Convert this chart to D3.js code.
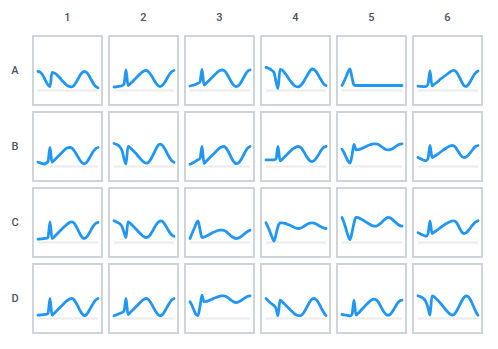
<!DOCTYPE html>
<html>
<head>
<meta charset="utf-8">
<script src="https://cdn.jsdelivr.net/npm/d3@7"></script>
<style>
  body { margin: 0; background: #fff; }
  text { font-family: Roboto, "Noto Sans", sans-serif; font-size: 11px; font-weight: 500; fill: #4a5366; }
</style>
</head>
<body>
<svg id="grid" width="498" height="349"></svg>
<script>
// grid labels
var rowNames = ["A", "B", "C", "D"];
var colNames = ["1", "2", "3", "4", "5", "6"];

// one sparkline per cell, 31 samples each
var A1 = [19, 18.5, 16.5, 13, 9, 5.5, 3.8, 18, 17.5, 16.5, 14.5, 12.5, 10, 8, 6, 4.5, 3.8, 3.7, 5, 8, 11.5, 15, 17.8, 19, 18.5, 16.5, 13, 9.5, 6, 3.8, 2.8];
var A2 = [3.5, 3.7, 4, 4.3, 4.8, 6.5, 20.5, 5, 6.5, 8.5, 10.5, 12.5, 14.5, 16.5, 18.3, 19.5, 20, 19.2, 17, 14, 10.5, 7.3, 5, 4, 4.8, 7, 10.2, 13.8, 17, 19.2, 20];
var A3 = [4.5, 5, 5.5, 6.3, 7.2, 8.5, 21, 5.5, 7, 9, 11, 13, 15, 17, 18.8, 20, 20.5, 20, 18, 14.5, 11, 7.5, 5, 4, 4.5, 6.5, 10, 13.5, 17, 19.5, 20.5];
var A4 = [23, 22.5, 21.5, 20, 18, 9, 2, 21, 20.5, 18.5, 16, 13, 10, 7.5, 5.3, 4, 3.7, 4.5, 6.5, 9.5, 13, 16.5, 19.5, 21.5, 21, 19, 16, 12.5, 9, 6.3, 5];
var A5 = [5, 9, 13.5, 18.5, 21.5, 13, 5.3, 5, 5, 5, 5, 5, 5, 5, 5, 5, 5, 5, 5, 5, 5, 5, 5, 5, 5, 5, 5, 5, 5, 5, 5];
var A6 = [4.3, 4.2, 4, 3.8, 4, 6.5, 19.5, 4.5, 6, 7.5, 9, 11, 12.5, 14, 15.5, 17, 18.5, 19.8, 20.2, 19, 16, 12, 8, 4.8, 4, 5.5, 8.5, 12, 15.5, 18, 19.5];

var B1 = [4.3, 3.6, 2.9, 2.5, 3.2, 5, 19, 4.3, 6, 8, 10, 12, 14, 16, 17.8, 18.8, 19, 18.3, 16, 13, 9.5, 6.3, 3.8, 2.7, 3.5, 6, 9.5, 13, 16, 18.2, 19];
var B2 = [23, 22.3, 21.3, 19.5, 16, 8, 2.5, 20, 19, 17, 15, 13, 10.5, 8.2, 6, 4.3, 3.3, 3.8, 6, 9.5, 13.5, 17.5, 21, 22.3, 21.5, 19, 15.5, 11.5, 8, 5.5, 4.3];
var B3 = [2.3, 3.3, 4.3, 5.5, 6.7, 8, 20, 3, 5, 7, 9, 11, 13, 15, 17, 18.8, 19.7, 20, 18.5, 15.5, 11.5, 7.5, 4.5, 2.8, 3.2, 5.3, 8.5, 12.5, 16, 18.8, 20];
var B4 = [6.7, 6.7, 6.6, 6.6, 6.7, 7.5, 20, 5.7, 7, 9, 11, 13, 15, 16.8, 18.3, 19.4, 20, 19.5, 17.5, 14.5, 11, 7.8, 5.7, 5, 5.8, 8, 11, 14.3, 17.3, 19.3, 20];
var B5 = [17.3, 14, 9.5, 5.5, 3.3, 11, 22, 16.7, 16.8, 17.3, 18, 19, 20, 21, 21.8, 22.4, 22.7, 22.7, 22.2, 21, 19.5, 18, 17, 16.7, 16.9, 17.6, 18.8, 20.2, 21.5, 22.3, 22.7];
var B6 = [9, 8, 7, 6.2, 5.7, 8, 21, 9, 10, 11.2, 12.5, 14, 15.5, 17, 18.3, 19.5, 20.5, 21, 20.5, 18.5, 15.5, 12.3, 10, 9, 9.5, 11, 13.3, 16, 18.5, 20.3, 21];

var C1 = [3.3, 3.5, 3.7, 4, 4.2, 5, 20.7, 4, 5.5, 7.5, 9.5, 11.5, 13.5, 15.5, 17.3, 19, 20.2, 20.7, 19.5, 16.5, 12.5, 8.5, 5.5, 4, 4.8, 7.3, 10.7, 14.2, 17.3, 19.3, 20];
var C2 = [21.7, 20.8, 19.7, 18.5, 16, 10, 5, 20.7, 19.5, 17.5, 15.5, 13.5, 11.3, 9.2, 7.2, 5.7, 5, 5.5, 7.5, 10.5, 14, 17.5, 20, 21.5, 21.3, 19.3, 16.3, 12.8, 9.6, 7.3, 6.3];
var C3 = [4, 9, 13.5, 18.5, 21.7, 13, 5, 5.3, 6.2, 7.2, 8.3, 9.4, 10.4, 11.3, 12, 12.3, 12.3, 12, 11, 9.3, 7.5, 5.8, 4.6, 4, 4.3, 5.3, 6.7, 8.3, 9.9, 11.3, 12.3];
var C4 = [19.7, 15.5, 10.5, 5.5, 1.5, 8, 16, 19.7, 19.6, 19.3, 18.8, 18, 17.2, 16.3, 15.3, 14.5, 14, 14.2, 15, 16.2, 17.5, 18.7, 19.4, 19.7, 19.4, 18.6, 17.4, 16.2, 15.2, 14.4, 14];
var C5 = [25, 20, 13.5, 7, 3, 10, 19.5, 25, 24.8, 24, 23, 21.8, 20.5, 19.2, 18, 17, 16.4, 16.4, 17.2, 18.7, 20.5, 22.5, 24, 25, 24.6, 23.3, 21.5, 19.7, 18, 16.9, 16.3];
var C6 = [9.7, 8.8, 7.8, 7, 6.3, 8.5, 21.7, 9, 10.2, 11.5, 13, 14.5, 16, 17.4, 18.7, 19.8, 20.8, 21.5, 21.7, 20.5, 17.5, 13.5, 10.3, 9, 9.6, 11.5, 14, 16.7, 19, 20.8, 21.7];

var D1 = [3.3, 3.5, 3.7, 4, 4.2, 5, 20, 3.3, 5, 7, 9, 11, 13, 15, 17, 18.5, 19.6, 20, 18.8, 15.8, 12, 8, 4.8, 2.8, 3.5, 6, 9.5, 13, 16.3, 18.7, 20];
var D2 = [2.7, 3.5, 4.3, 5.2, 6, 7.3, 20, 4, 5.8, 7.8, 9.8, 11.8, 13.8, 15.8, 17.8, 19.3, 20, 19.3, 17, 13.8, 10, 6.5, 4, 2.8, 3.5, 6, 9.5, 13, 16.3, 18.8, 20];
var D3 = [16.7, 13, 8.5, 4, 3, 12, 23.3, 16.7, 17, 17.6, 18.4, 19.3, 20.2, 21, 21.7, 22.3, 22.6, 22.6, 22, 20.8, 19.2, 17.7, 16.5, 16, 16.3, 17.2, 18.6, 20, 21.3, 22.2, 22.7];
var D4 = [20, 18, 16, 14.5, 13, 10, 2.7, 18.3, 17, 15, 13, 11, 9, 7, 5.2, 3.8, 3, 2.8, 3.8, 6.3, 9.8, 13.5, 17, 19.3, 20, 19, 16.5, 13, 9, 5.5, 3];
var D5 = [4, 3.7, 3.3, 3, 2.7, 4, 18.3, 3.3, 5, 7, 9.2, 11.4, 13.6, 15.6, 17.4, 18.8, 19.3, 18.8, 16.8, 13.5, 9.8, 6.5, 4.2, 3.3, 4, 6.3, 9.5, 12.8, 15.8, 17.8, 18.3];
var D6 = [22.7, 22, 21, 19.5, 16.5, 11, 3.3, 22.7, 21.8, 20, 18, 15.8, 13.5, 11, 8.5, 6.3, 4.5, 3.5, 4, 6.5, 10, 14, 18, 21, 22.5, 22, 19.5, 15.5, 11, 6.5, 3.3];

var grid = [
  [A1, A2, A3, A4, A5, A6],
  [B1, B2, B3, B4, B5, B6],
  [C1, C2, C3, C4, C5, C6],
  [D1, D2, D3, D4, D5, D6]
];

var svg = d3.select("#grid");

// cell placement
var colScale = d3.scaleBand().domain(colNames).range([32, 483]).paddingInner(5 / 76);
var rowScale = d3.scaleBand().domain(rowNames).range([35, 334]).paddingInner(5 / 76);
var cellSize = colScale.bandwidth();

// scales inside one cell
var xIn = d3.scaleLinear().domain([0, 30]).range([6, 66]);
var yIn = d3.scaleLinear().domain([0, 40]).range([55.5, 15.5]);

var spark = d3.line()
  .x(function(d, i) { return xIn(i); })
  .y(function(d) { return yIn(d); })
  .curve(d3.curveMonotoneX);

// column headers
svg.selectAll(".colLabel")
  .data(colNames)
  .enter().append("text")
    .attr("class", "colLabel")
    .attr("x", function(d) { return colScale(d) + cellSize / 2; })
    .attr("y", 21)
    .attr("text-anchor", "middle")
    .text(function(d) { return d; });

// row headers
svg.selectAll(".rowLabel")
  .data(rowNames)
  .enter().append("text")
    .attr("class", "rowLabel")
    .attr("x", 15)
    .attr("y", function(d) { return rowScale(d) + cellSize / 2 + 3.8; })
    .attr("text-anchor", "middle")
    .text(function(d) { return d; });

// cells
var cells = [];
grid.forEach(function(row, r) {
  row.forEach(function(vals, c) {
    cells.push({ row: rowNames[r], col: colNames[c], vals: vals });
  });
});

var cell = svg.selectAll(".cell")
  .data(cells)
  .enter().append("g")
    .attr("class", "cell")
    .attr("transform", function(d) {
      return "translate(" + colScale(d.col) + "," + rowScale(d.row) + ")";
    });

cell.append("rect")
  .attr("x", 1)
  .attr("y", 1)
  .attr("width", cellSize - 2)
  .attr("height", cellSize - 2)
  .attr("fill", "#fff")
  .attr("stroke", "#cfd3dc")
  .attr("stroke-width", 2);

cell.append("line")
  .attr("x1", xIn(0))
  .attr("x2", xIn(30))
  .attr("y1", yIn(0))
  .attr("y2", yIn(0))
  .attr("stroke", "#ebebeb")
  .attr("stroke-width", 1.8);

cell.append("path")
  .attr("d", function(d) { return spark(d.vals); })
  .attr("fill", "none")
  .attr("stroke", "#2196f3")
  .attr("stroke-width", 2.8)
  .attr("stroke-linecap", "round")
  .attr("stroke-linejoin", "round");
</script>
</body>
</html>
